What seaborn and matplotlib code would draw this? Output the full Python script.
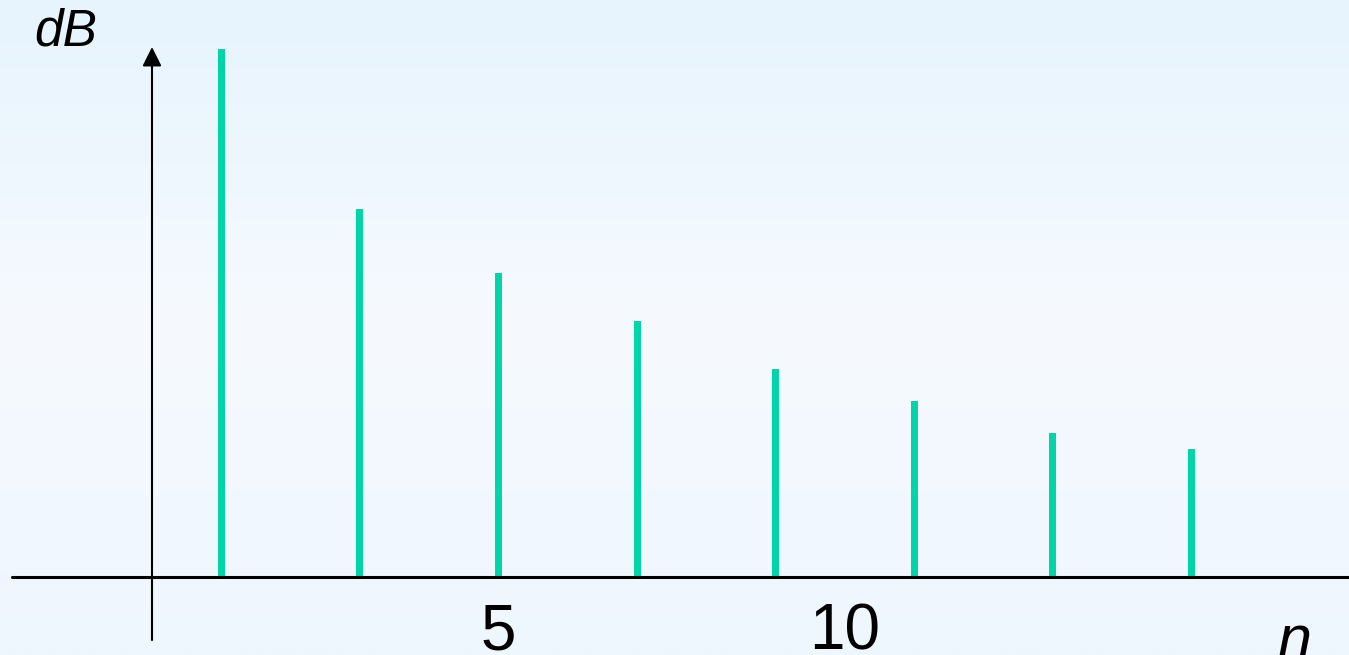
import numpy as np
import pandas as pd
import matplotlib
matplotlib.use("Agg")
import matplotlib.pyplot as plt
from matplotlib.colors import LinearSegmentedColormap
import seaborn as sns

# Harmonic spectrum: odd harmonics with decreasing level
harmonics = [1, 3, 5, 7, 9, 11, 13, 15]
levels_db = [33, 23, 19, 16, 13, 11, 9, 8]
tick_values = [5, 10]
tick_labels = ["5", "10"]

sns.set_theme(style="white")
plt.rcParams["font.family"] = ["Liberation Sans", "DejaVu Sans"]

W, H = 1349, 655
fig = plt.figure(figsize=(W / 100, H / 100), dpi=100)

# soft vertical background gradient
bg = fig.add_axes([0, 0, 1, 1], zorder=0)
grad = LinearSegmentedColormap.from_list(
    "bg", ["#E7F4FD", "#F6FAFF", "#EEF6FE"])
bg.imshow(np.linspace(0, 1, 256).reshape(-1, 1), aspect="auto",
          cmap=grad, extent=[0, 1, 0, 1])
bg.set_axis_off()

ax = fig.add_axes([0, 0, 1, 1], zorder=1)
ax.patch.set_alpha(0)

df = pd.DataFrame({"n": harmonics, "dB": levels_db})
sns.barplot(data=df, x="n", y="dB", native_scale=True, width=0.05,
            color="#00D4A8", saturation=1, linewidth=0, ax=ax, zorder=3)

x0, xscale = 152, 69.3   # pixel of n=0 and pixels per harmonic
y0, yscale = 577, 16.0   # pixel of 0 dB and pixels per unit
ax.set_xlim(-x0 / xscale, (W - x0) / xscale)
ax.set_ylim(-(H - y0) / yscale, y0 / yscale)
ax.set_axis_off()

# horizontal axis
ax.axhline(0, xmin=12 / W, xmax=1, color="black", lw=2.2, zorder=4)

# vertical axis with arrow head
ax.annotate("", xy=(0, (y0 - 47) / yscale), xytext=(0, -(640 - y0) / yscale),
            arrowprops=dict(arrowstyle="-|>,head_length=0.4,head_width=0.2",
                            mutation_scale=29, lw=1.5, color="black",
                            shrinkA=0, shrinkB=0), zorder=5)

for v, lab in zip(tick_values, tick_labels):
    ax.text(v, -(650 - y0) / yscale, lab, ha="center", va="baseline",
            fontsize=46, color="black")

fig.text(34 / W, 1 - 46 / H, "dB", fontsize=37, style="italic",
         ha="left", va="baseline", color="black")
ax.text((1295 - x0) / xscale, -(658 - y0) / yscale, "n", fontsize=44,
        style="italic", ha="center", va="baseline", color="black")

fig.savefig("out.png", dpi=100)
